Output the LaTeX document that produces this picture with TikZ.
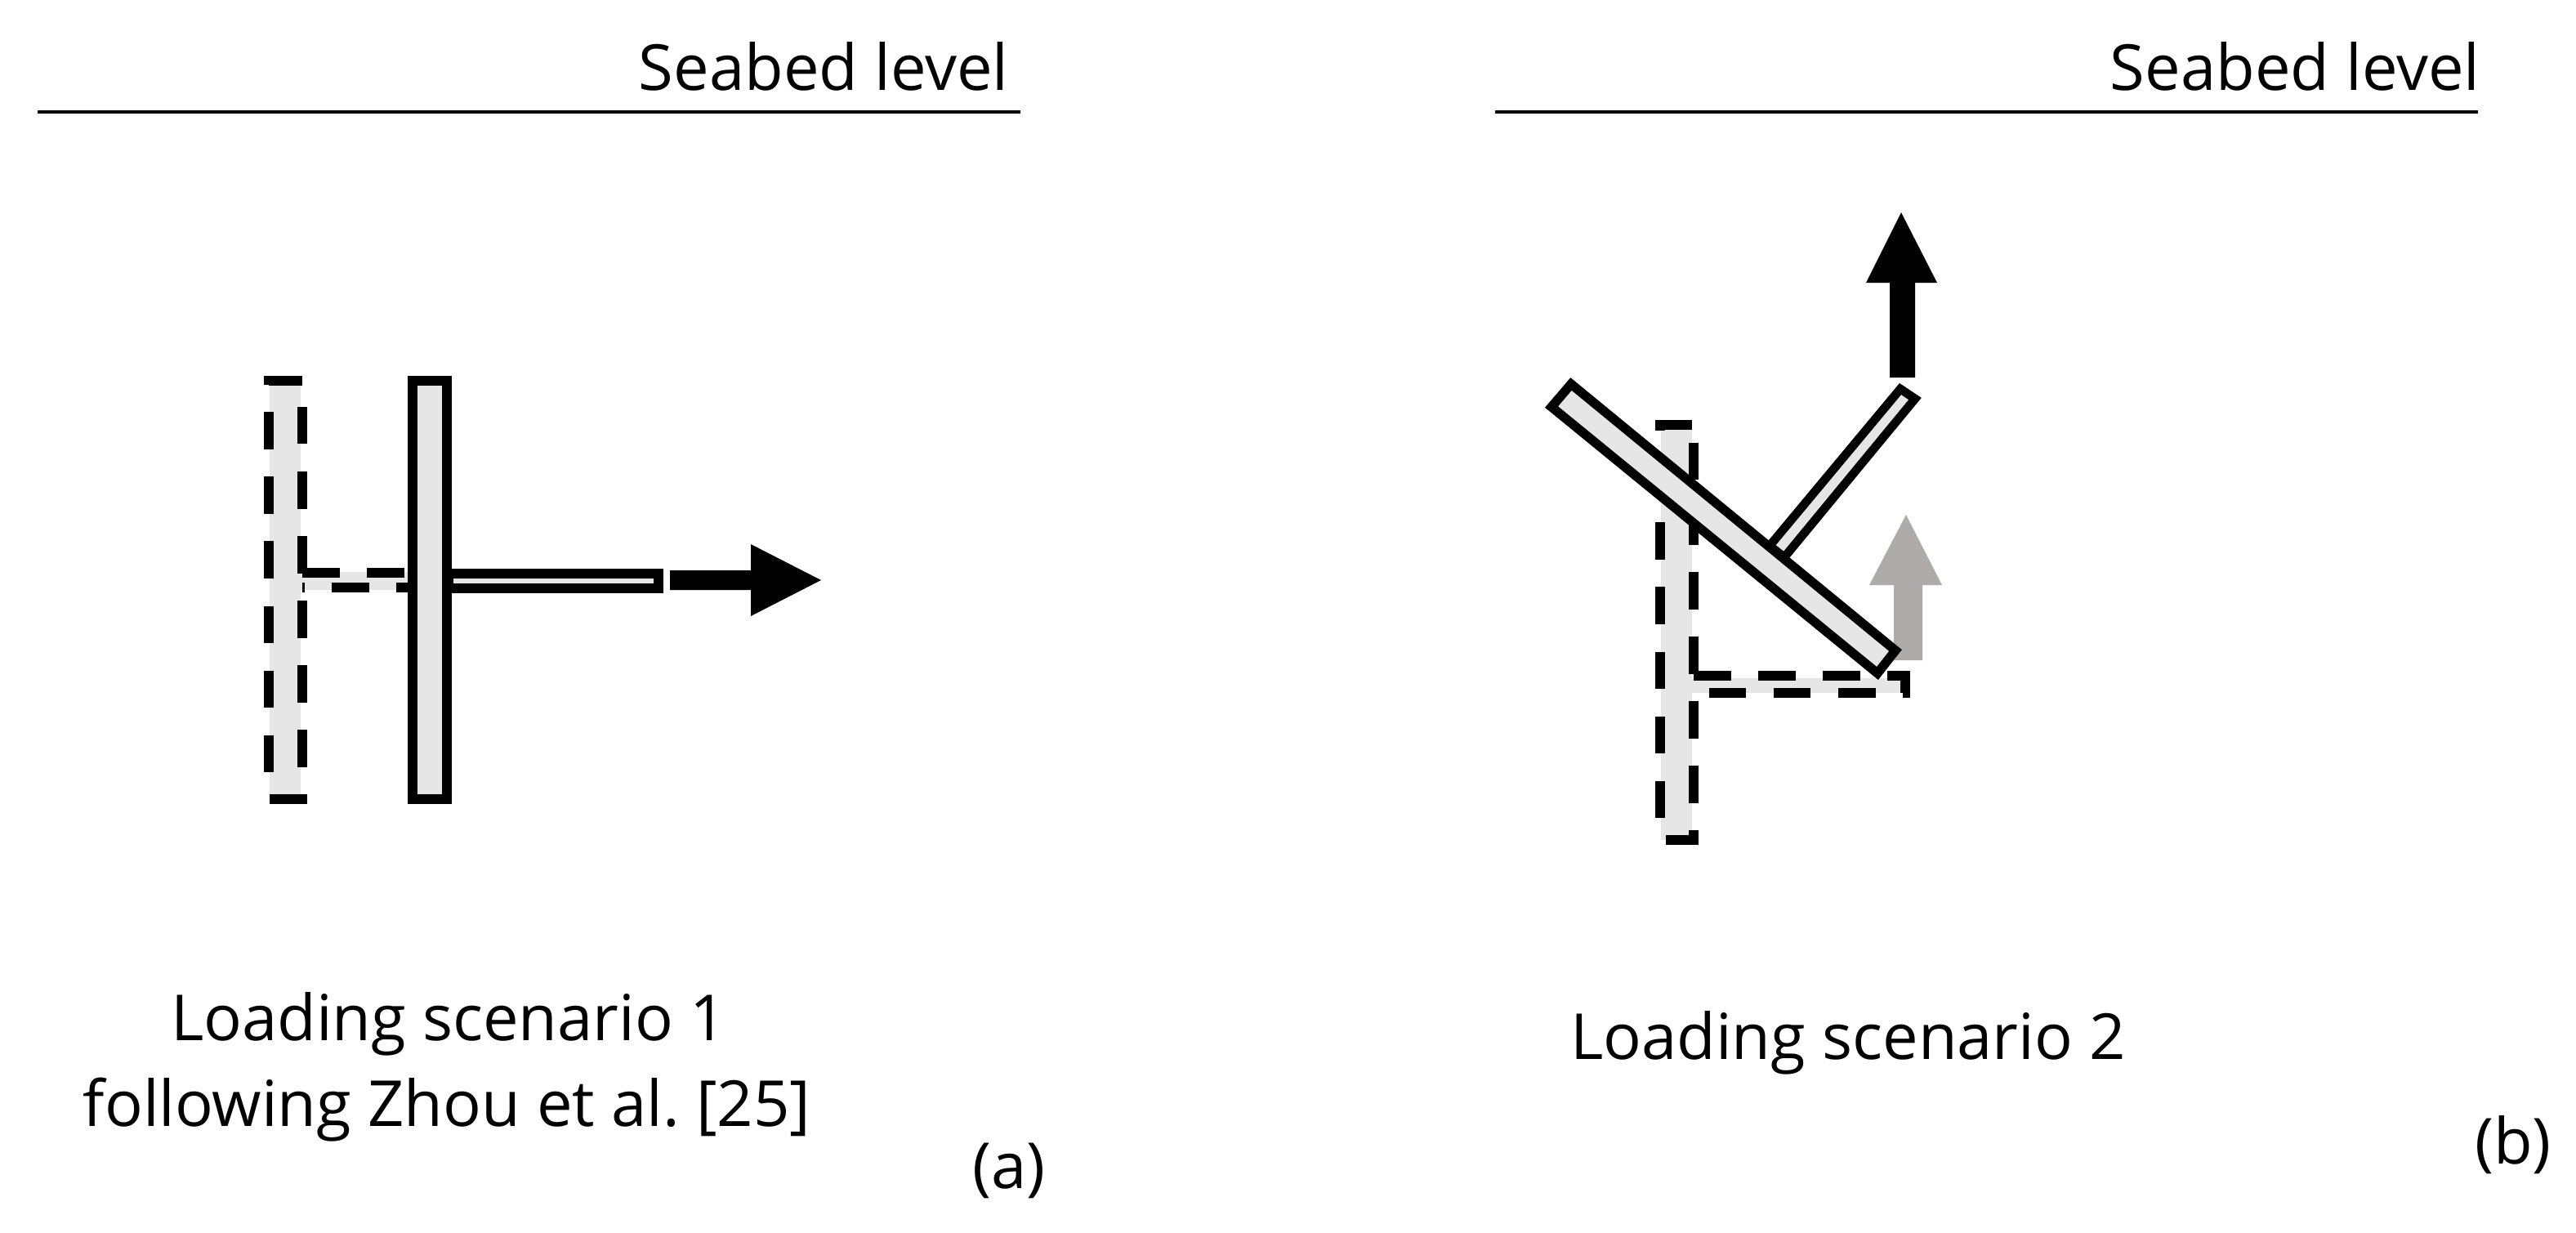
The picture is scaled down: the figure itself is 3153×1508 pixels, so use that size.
\documentclass[tikz,border=0pt]{standalone}
\usepackage{fontspec}
\setmainfont{Open Sans}
\definecolor{fillg}{HTML}{E6E6E6}
\definecolor{arrowg}{HTML}{AFABAB}
\tikzset{
  px/.style={x=0.01cm,y=-0.01cm},
  solidbar/.style={draw=black,fill=fillg,line width=3.2pt,line join=miter},
  dashbar/.style={draw=black,line width=3.2pt,dash pattern=on 13pt off 9.5pt},
  ghostfill/.style={fill=fillg,draw=none},
  level/.style={draw=black,line width=0.9pt},
  label/.style={font=\fontsize{22.1}{22.1}\selectfont,inner sep=0pt,anchor=base},
}
\begin{document}
\begin{tikzpicture}[px]
\useasboundingbox (0,0) rectangle (3153,1508);
% level lines
\coordinate (l1a) at (46,137); \coordinate (l1b) at (1249,137);
\coordinate (l2a) at (1830,137); \coordinate (l2b) at (3033,137);
\draw[level] (l1a) -- (l1b);
\draw[level] (l2a) -- (l2b);
\node[label,anchor=base east] (s1) at (1235,110) {Seabed level};
\node[label,anchor=base east] (s2) at (3036,110) {Seabed level};
% panel a
\fill[ghostfill] (330,466) rectangle (368,980);
\fill[ghostfill] (368,700) rectangle (503,722);
\draw[dashbar] (370,466) -- (329,466) -- (329,978) -- (370,978) -- cycle;
\draw[dashbar] (370,701) -- (503,701);
\draw[dashbar,dash phase=8pt] (503,719) -- (370,719);
\draw[solidbar] (505,466) rectangle (547,978);
\draw[solidbar] (549,702) rectangle (806,720);
\fill[black] (820,698) -- (919,698) -- (919,666) -- (1005,710) -- (919,754) -- (919,722) -- (820,722) -- cycle;
\node[label] (t1) at (549,1273) {Loading scenario 1};
\node[label] (t2) at (547,1378) {following Zhou et al.\ [25]};
\node[label] (ta) at (1235,1454) {(a)};
% panel b
\fill[ghostfill] (2033,520) rectangle (2071,1028);
\fill[ghostfill] (2071,830) rectangle (2330,848);
\draw[dashbar] (2071,520) -- (2032,520) -- (2032,1028) -- (2073,1028) -- (2073,520);
\draw[dashbar] (2073,827) -- (2332,827) -- (2332,848) -- (2073,848);
\fill[arrowg] (2318,808) -- (2318,716) -- (2288,716) -- (2333,630) -- (2377,716) -- (2353,716) -- (2353,808) -- cycle;
\draw[solidbar] (1923,470) -- (1899,498) -- (2298,824) -- (2320,796) -- cycle;
\draw[solidbar,line width=3pt] (2326,476) -- (2344,488) -- (2184,682) -- (2166,668) -- cycle;
\fill[black] (2313,462) -- (2313,346) -- (2284,346) -- (2327,260) -- (2371,346) -- (2344,346) -- (2344,462) -- cycle;
\node[label] (t3) at (2262,1296) {Loading scenario 2};
\node[label] (tb) at (3076,1424) {(b)};
\end{tikzpicture}
\end{document}
